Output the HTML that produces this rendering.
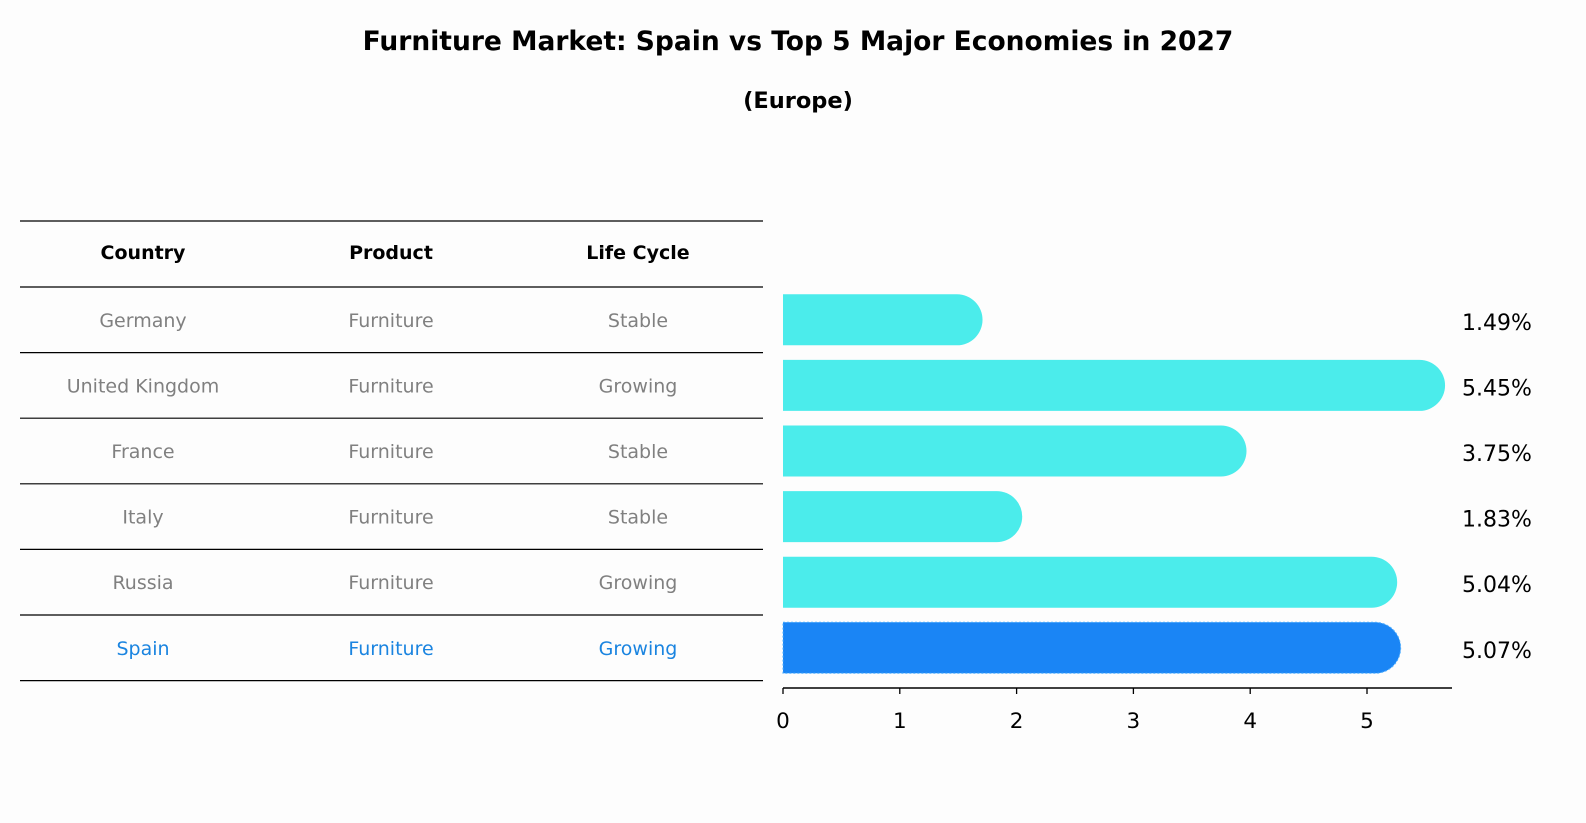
<!DOCTYPE html>
<html><head><meta charset="utf-8"><style>
html,body{margin:0;padding:0;overflow:hidden;width:1586px;height:823px;background:#fdfdfd;font-family:"DejaVu Sans","Liberation Sans",sans-serif;}
svg{display:block;}
</style></head><body>
<svg width="1586" height="823" xmlns="http://www.w3.org/2000/svg" font-family="DejaVu Sans, Liberation Sans, sans-serif">
<rect width="1586" height="823" fill="#fdfdfd"/>
<text x="798" y="50" text-anchor="middle" font-size="26.5" font-weight="bold">Furniture Market: Spain vs Top 5 Major Economies in 2027</text>
<text x="798" y="108" text-anchor="middle" font-size="22.5" font-weight="bold">(Europe)</text>
<g id="table"></g>
<g id="bars"></g>
</svg>
<script>
const countries=["Germany","United Kingdom","France","Italy","Russia","Spain"];
const products=["Furniture","Furniture","Furniture","Furniture","Furniture","Furniture"];
const lifecycles=["Stable","Growing","Stable","Stable","Growing","Growing"];
const values=[1.49,5.45,3.75,1.83,5.04,5.07];
const ticks=[0,1,2,3,4,5];
const NS="http://www.w3.org/2000/svg";
function mk(tag,attrs,parent){const e=document.createElementNS(NS,tag);for(const k in attrs)e.setAttribute(k,attrs[k]);parent.appendChild(e);return e;}
const tbl=document.getElementById('table');
const bars=document.getElementById('bars');
const rowY=i=>287+i*65.6;
const colX=[143,391,638];
for(let i=0;i<=7;i++){const y=i==0?221:rowY(i-1);
 const l=mk('line',{x1:20,x2:763,y1:y,y2:y,stroke:'#000','stroke-width':1.2},tbl);
 
 }
["Country","Product","Life Cycle"].forEach((h,j)=>{const t=mk('text',{x:colX[j],y:259,'text-anchor':'middle','font-size':19,'font-weight':'bold'},tbl);t.textContent=h;
 
 });
const x0=783,sx=116.8;
const xs=v=>x0+v*sx;
countries.forEach((c,i)=>{
 const cy=rowY(i)+32.8;const col=i==5?'#1a84e0':'#808080';
 [c,products[i],lifecycles[i]].forEach((s,j)=>{const t=mk('text',{x:colX[j],y:cy+7,'text-anchor':'middle','font-size':19,fill:col},tbl);t.textContent=s;
  
  });
 const h=51,r=25.5,xe=xs(values[i]);
 const p=mk('path',{d:`M${x0},${cy-h/2} L${xe},${cy-h/2} A${r},${r} 0 0 1 ${xe},${cy+h/2} L${x0},${cy+h/2} Z`,fill:i==5?'#1a85f5':'#4beceb'},bars);
 if(i==5){p.setAttribute('stroke','#4fb0ff');p.setAttribute('stroke-dasharray','2,2');p.setAttribute('stroke-width','1');}
 
 
 const t=mk('text',{x:1462,y:cy+10,'font-size':22,fill:'#000'},bars);t.textContent=values[i].toFixed(2)+'%';
 
 
});
const ax=mk('line',{x1:x0,x2:1452,y1:688,y2:688,stroke:'#000','stroke-width':1.5},bars);


ticks.forEach(v=>{const l=mk('line',{x1:xs(v),x2:xs(v),y1:688,y2:694,stroke:'#000','stroke-width':1.3},bars);
 
 
 const t=mk('text',{x:xs(v),y:728,'text-anchor':'middle','font-size':21.5},bars);t.textContent=v;
 
 });
</script>
</body></html>
